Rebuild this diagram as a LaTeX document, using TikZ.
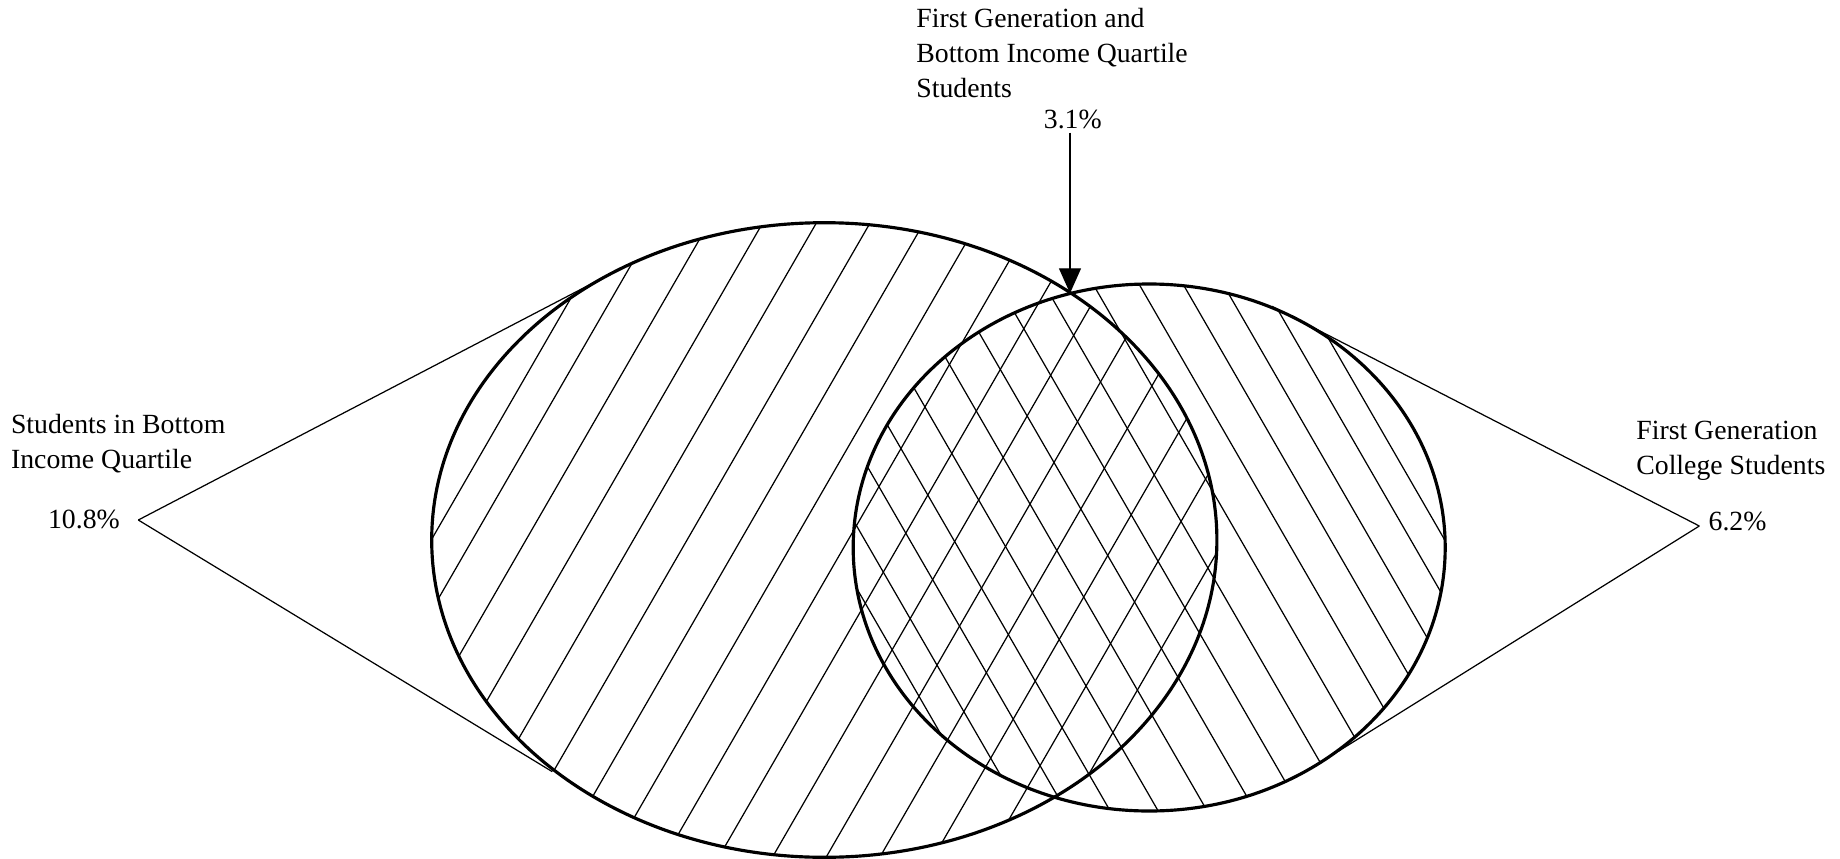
\documentclass[tikz,border=0pt]{standalone}
\usepackage{fontspec}
\setmainfont{Liberation Serif}
\usetikzlibrary{positioning,arrows.meta,calc}

\begin{document}
\begin{tikzpicture}[
    x=0.02cm, y=-0.02cm,
    set outline/.style={draw=black, line width=1.8pt},
    hatch line/.style={draw=black, line width=0.7pt},
    leader/.style={draw=black, line width=0.7pt},
    pointer/.style={draw=black, line width=0.7pt, -{Triangle[length=0.5cm,width=0.44cm]}},
    label text/.style={font=\fontsize{15.8pt}{19.8pt}\selectfont, inner sep=0pt, align=left}
]
  \useasboundingbox (0,0) rectangle (1840,859);

  \coordinate (L) at (824.3,540);
  \coordinate (R) at (1149.2,547.5);
  \coordinate (meet) at (1070,293.3);

  \begin{scope}
    \clip (L) ellipse [x radius=392.6, y radius=317.3];
    \foreach \c in {743,784,837.7,891.4,945.1,998.8,1052.5,1106.2,1159.9,1213.6,1267.3,1321,1374.7,1428.4,1482.1,1535.8}
      \draw[hatch line] (\c-86.6,150) -- (\c-519.6,900);
  \end{scope}
  \begin{scope}
    \clip (R) ellipse [x radius=296, y radius=263.5];
    \foreach \d in {517,553,598,642,690,739,787,834,880,929,975,1019,1059,1099,1133}
      \draw[hatch line] (\d+86.6,150) -- (\d+519.6,900);
  \end{scope}

  \draw[set outline] (L) ellipse [x radius=392.6, y radius=317.3];
  \draw[set outline] (R) ellipse [x radius=296, y radius=263.5];

  \node[label text, anchor=base west] (bothLbl) at (916,97.3) {First Generation and\\Bottom Income Quartile\\Students};
  \node[label text, anchor=base] (pctBoth) at (1072.8,128.3) {3.1\%};
  \node[label text, anchor=base west] (incLbl) at (10.7,468.3) {Students in Bottom\\Income Quartile};
  \node[label text, anchor=base west] (pctInc) at (47.7,528.3) {10.8\%};
  \node[label text, anchor=base west] (genLbl) at (1636,474) {First Generation\\College Students};
  \node[label text, anchor=base west] (pctGen) at (1708.3,530) {6.2\%};

  \coordinate (tipInc) at (138.3,520);
  \coordinate (tipGen) at (1699.3,526);
  \coordinate (touchIncUp) at ($(L)+({392.6*cos(237.18)},{317.3*sin(237.18)})$);
  \coordinate (touchIncLo) at ($(L)+({392.6*cos(126.94)},{317.3*sin(126.94)})$);
  \coordinate (touchGenUp) at ($(R)+({296*cos(-60)},{263.5*sin(-60)})$);
  \coordinate (touchGenLo) at ($(R)+({296*cos(54.97)},{263.5*sin(54.97)})$);

  \draw[leader] (tipInc) -- ($(tipInc)!1.015!(touchIncUp)$);
  \draw[leader] (tipInc) -- ($(tipInc)!0.92!(touchIncLo)$);
  \draw[leader] (tipGen) -- ($(tipGen)!1.063!(touchGenUp)$);
  \draw[leader] (tipGen) -- ($(tipGen)!0.95!(touchGenLo)$);

  \draw[pointer, shorten <=0.07cm] (pctBoth.south -| meet) -- (meet);
\end{tikzpicture}
\end{document}
